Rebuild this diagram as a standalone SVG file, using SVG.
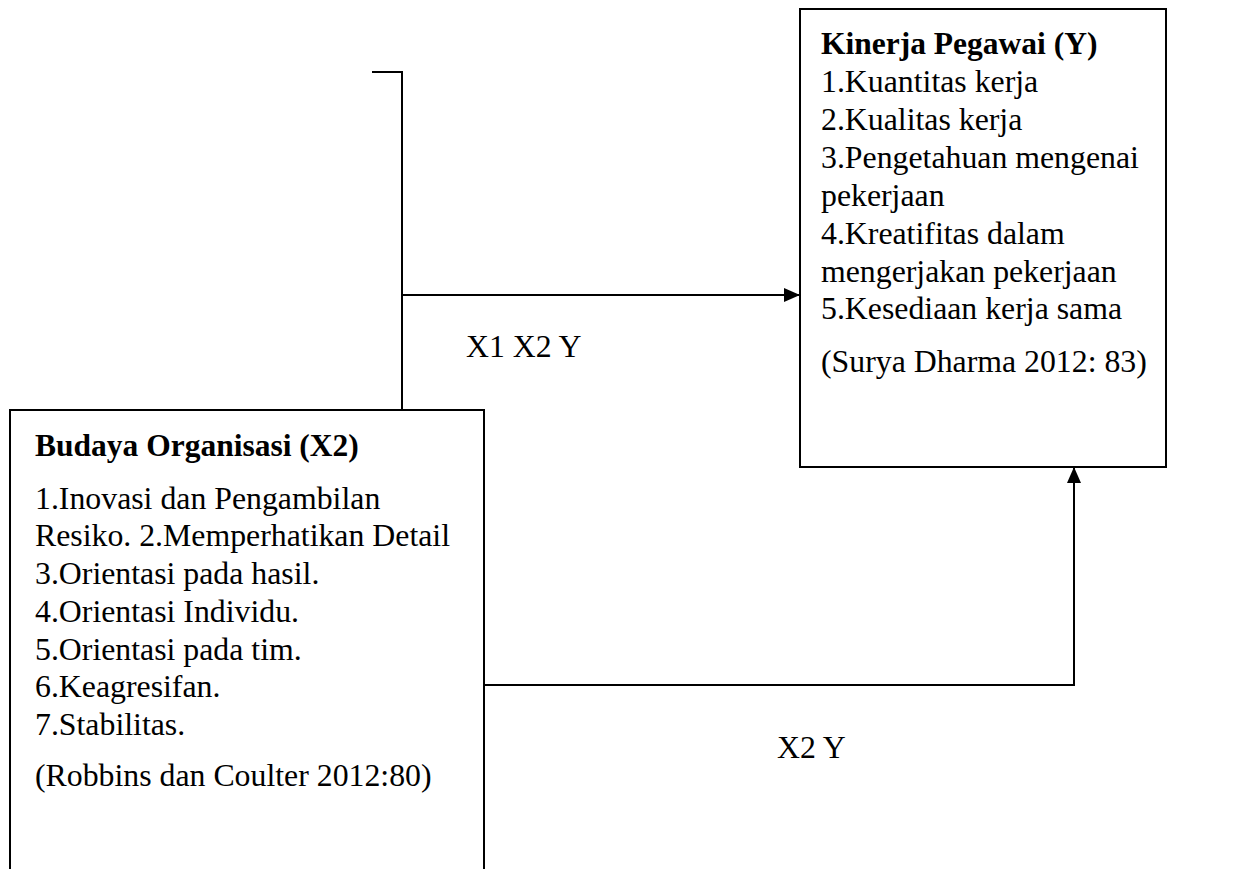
<svg xmlns="http://www.w3.org/2000/svg" width="1253" height="869" viewBox="0 0 1253 869">
<defs>
<style>
text{font-family:"Liberation Serif","Times New Roman",serif;font-size:31.8px;fill:#000}
.b{font-weight:bold;font-size:31.5px}
.box{fill:#fff;stroke:#000;stroke-width:2}
.ln{fill:none;stroke:#000;stroke-width:2}
</style>
<marker id="ah" markerWidth="16" markerHeight="14" refX="15" refY="7" orient="auto" markerUnits="userSpaceOnUse">
<path d="M0,0 L16,7 L0,14 Z" fill="#000"/>
</marker>
</defs>
<rect width="1253" height="869" fill="#fff"/>
<g id="connectors">
<path class="ln" d="M372,72 H402 V410"/>
<path class="ln" d="M402,295 H799" marker-end="url(#ah)"/>
<path class="ln" d="M484,685 H1074 V468" marker-end="url(#ah)"/>
<text x="466" y="357">X1 X2 Y</text>
<text x="777" y="758">X2 Y</text>
</g>
<g id="kinerja">
<rect class="box" x="800" y="9" width="366" height="458"/>
<text class="b" x="821" y="54">Kinerja Pegawai (Y)</text>
<text x="821" y="92">1.Kuantitas kerja</text>
<text x="821" y="130">2.Kualitas kerja</text>
<text x="821" y="168">3.Pengetahuan mengenai</text>
<text x="821" y="206">pekerjaan</text>
<text x="821" y="244">4.Kreatifitas dalam</text>
<text x="821" y="282">mengerjakan pekerjaan</text>
<text x="821" y="319">5.Kesediaan kerja sama</text>
<text x="821" y="372">(Surya Dharma 2012: 83)</text>
</g>
<g id="budaya">
<rect class="box" x="10" y="410" width="474" height="480"/>
<text class="b" x="35" y="456">Budaya Organisasi (X2)</text>
<text x="35" y="509">1.Inovasi dan Pengambilan</text>
<text x="35" y="546">Resiko. 2.Memperhatikan Detail</text>
<text x="35" y="584">3.Orientasi pada hasil.</text>
<text x="35" y="622">4.Orientasi Individu.</text>
<text x="35" y="660">5.Orientasi pada tim.</text>
<text x="35" y="697">6.Keagresifan.</text>
<text x="35" y="735">7.Stabilitas.</text>
<text x="35" y="786">(Robbins dan Coulter 2012:80)</text>
</g>
</svg>
